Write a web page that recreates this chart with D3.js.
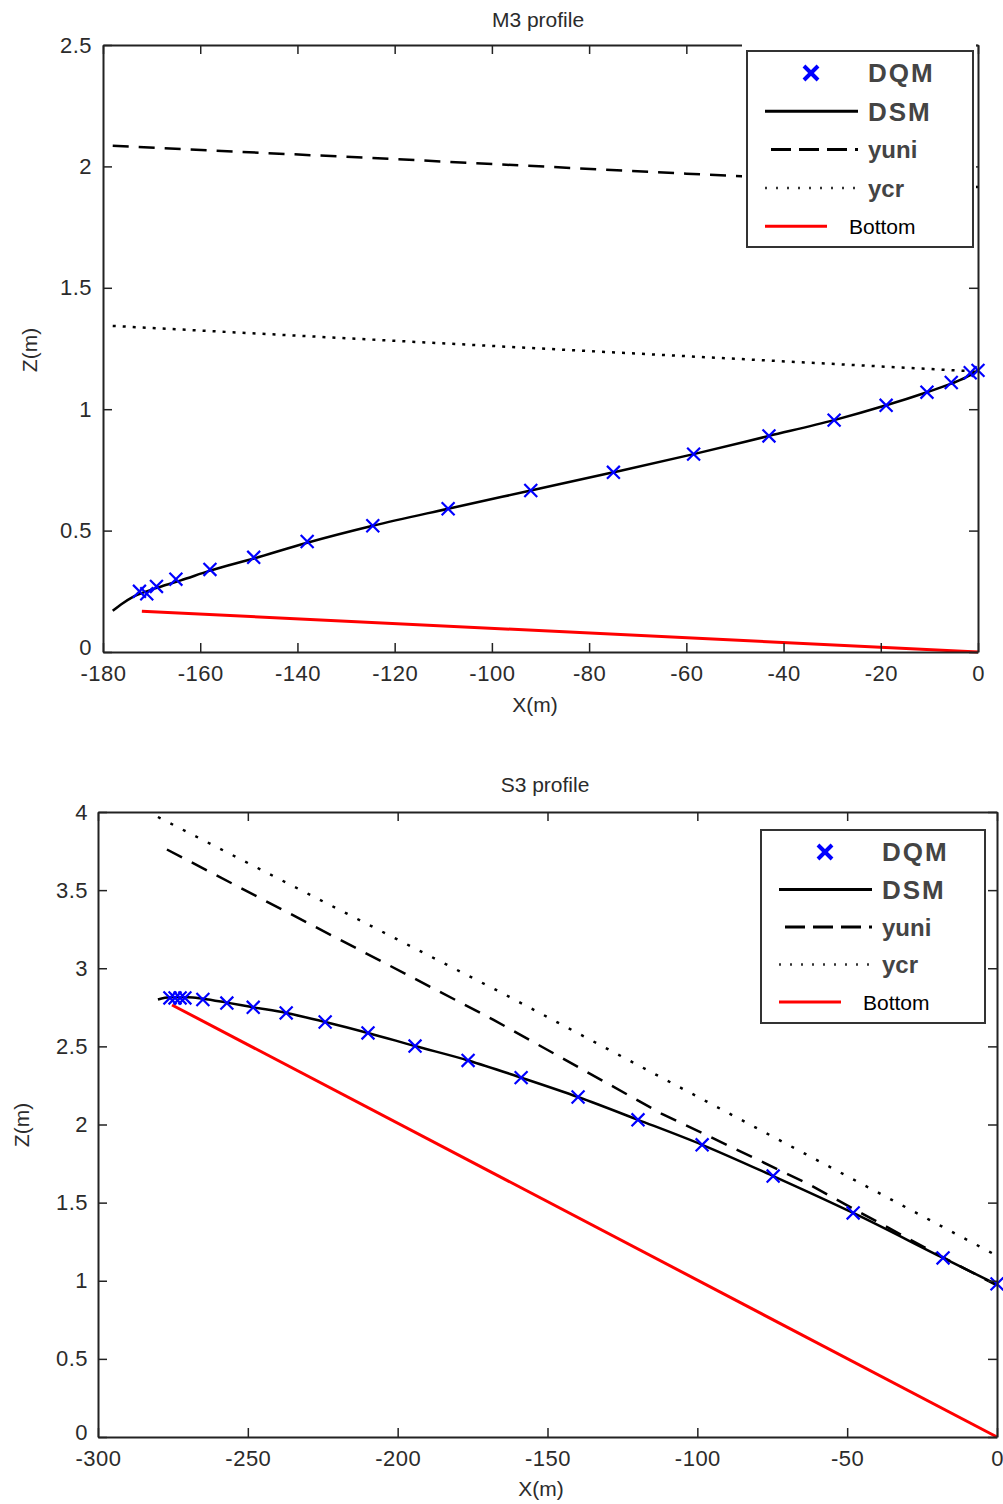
<!DOCTYPE html>
<html>
<head>
<meta charset="utf-8">
<script src="https://cdn.jsdelivr.net/npm/d3@7"></script>
<style>
  body { margin: 0; background: #fff; }
  svg { display: block; font-family: "Liberation Sans", Arial, sans-serif; }
</style>
</head>
<body>
<svg id="chart" width="1003" height="1504"></svg>
<script>
// ---- M3 profile ----
const m3XTicks = [-180, -160, -140, -120, -100, -80, -60, -40, -20, 0];
const m3ZTicks = [0, 0.5, 1, 1.5, 2, 2.5];
const m3DqmX = [-172.5, -171, -169, -165, -158, -149, -138, -124.5, -109, -92, -75, -58.5, -43, -29.6, -18.9, -10.5, -5.5, -1.6, 0];
const m3DqmZ = [0.25, 0.24, 0.27, 0.30, 0.34, 0.39, 0.455, 0.52, 0.59, 0.665, 0.74, 0.815, 0.89, 0.955, 1.016, 1.07, 1.11, 1.15, 1.16];
const m3DsmX = [-178, -176, -174, -171, -168, -164, -158, -149, -138, -124.5, -109, -92, -75, -58.5, -43, -29.6, -18.9, -10.5, -5.5, -1.6, 0];
const m3DsmZ = [0.17, 0.2, 0.225, 0.25, 0.27, 0.295, 0.335, 0.385, 0.45, 0.52, 0.59, 0.665, 0.74, 0.815, 0.89, 0.955, 1.016, 1.07, 1.105, 1.14, 1.16];
const m3YuniX = [-178, -120, -60, 0];
const m3YuniZ = [2.085, 2.03, 1.97, 1.915];
const m3YcrX = [-178, -90, 0];
const m3YcrZ = [1.343, 1.25, 1.155];
const m3BottomX = [-172, 0];
const m3BottomZ = [0.168, 0];

// ---- S3 profile ----
const s3XTicks = [-300, -250, -200, -150, -100, -50, 0];
const s3ZTicks = [0, 0.5, 1, 1.5, 2, 2.5, 3, 3.5, 4];
const s3DqmX = [-276, -274.3, -272.6, -271, -265, -257, -248.2, -237.2, -224.2, -209.9, -194.2, -176.5, -158.8, -139.8, -119.8, -98.4, -74.7, -48, -18, 0];
const s3DqmZ = [2.81, 2.81, 2.81, 2.81, 2.80, 2.777, 2.75, 2.714, 2.656, 2.586, 2.502, 2.41, 2.30, 2.176, 2.03, 1.87, 1.67, 1.434, 1.146, 0.98];
const s3DsmX = [-280, -276, -270, -265, -257, -248.2, -237.2, -224.2, -209.9, -194.2, -176.5, -158.8, -139.8, -119.8, -98.4, -74.7, -48, -18, 0];
const s3DsmZ = [2.80, 2.815, 2.815, 2.805, 2.78, 2.75, 2.714, 2.656, 2.586, 2.502, 2.41, 2.30, 2.176, 2.03, 1.87, 1.67, 1.434, 1.146, 0.975];
const s3YuniX = [-277, -230, -168, -112, -63, -45, -20, 0];
const s3YuniZ = [3.76, 3.29, 2.67, 2.07, 1.62, 1.43, 1.17, 0.97];
const s3YcrX = [-280, -165, -79, 0];
const s3YcrZ = [3.968, 2.84, 1.965, 1.16];
const s3BottomX = [-275.3, 0];
const s3BottomZ = [2.765, 0];

const legendNames = ["DQM", "DSM", "yuni", "ycr", "Bottom"];

const svg = d3.select("#chart");
const textColor = "#2b2b2b";

function zip(xs, zs) {
  return xs.map((x, i) => ({ x: x, z: zs[i] }));
}

function drawChart(c) {
  const x = d3.scaleLinear().domain(c.xDomain).range([c.left, c.right]);
  const y = d3.scaleLinear().domain(c.zDomain).range([c.bottom, c.top]);
  const g = svg.append("g");

  const line = d3.line().x(d => x(d.x)).y(d => y(d.z));

  // series
  g.append("path").datum(zip(c.bottomX, c.bottomZ))
    .attr("d", line).attr("fill", "none").attr("stroke", "#ff0000").attr("stroke-width", 3);
  g.append("path").datum(zip(c.ycrX, c.ycrZ))
    .attr("d", line).attr("fill", "none").attr("stroke", "#000")
    .attr("stroke-width", 2.5).attr("stroke-dasharray", c.dotDash);
  g.append("path").datum(zip(c.yuniX, c.yuniZ))
    .attr("d", line)
    .attr("fill", "none").attr("stroke", "#000")
    .attr("stroke-width", 2.5).attr("stroke-dasharray", c.dashDash);
  g.append("path").datum(zip(c.dsmX, c.dsmZ))
    .attr("d", d3.line().curve(d3.curveMonotoneX).x(d => x(d.x)).y(d => y(d.z)))
    .attr("fill", "none").attr("stroke", "#000").attr("stroke-width", 2.5);

  const cross = d3.symbol().type(d3.symbolTimes).size(110);
  g.append("g").selectAll("path")
    .data(zip(c.dqmX, c.dqmZ))
    .join("path")
    .attr("d", cross)
    .attr("transform", d => `translate(${x(d.x)},${y(d.z)})`)
    .attr("fill", "none").attr("stroke", "#0000ff").attr("stroke-width", 2.2);

  // axes (ticks inward, box)
  const tick = 9;
  const styleAxis = sel => {
    sel.select(".domain").attr("stroke", "#222").attr("stroke-width", 2);
    sel.selectAll(".tick line").attr("stroke", "#222").attr("stroke-width", 1.5);
    sel.selectAll("text").attr("fill", textColor).style("font-size", "22px")
      .style("letter-spacing", "0.5px")
      .style("font-family", "Liberation Sans, Arial, sans-serif");
  };
  const fmt = d => String(d);
  g.append("g").attr("transform", `translate(0,${c.bottom})`)
    .call(d3.axisBottom(x).tickValues(c.xTicks).tickSize(-tick).tickSizeOuter(0).tickPadding(13).tickFormat(fmt))
    .call(styleAxis);
  g.append("g").attr("transform", `translate(0,${c.top})`)
    .call(d3.axisTop(x).tickValues(c.xTicks).tickSize(-tick).tickSizeOuter(0).tickFormat(""))
    .call(styleAxis);
  const yAxis = g.append("g").attr("transform", `translate(${c.left},0)`)
    .call(d3.axisLeft(y).tickValues(c.zTicks).tickSize(-tick).tickSizeOuter(0).tickPadding(c.yPad).tickFormat(fmt))
    .call(styleAxis);
  // lift the "0" label a little so it clears the first x label
  yAxis.selectAll(".tick text").filter(d => d === 0).attr("dy", "0.1em");
  g.append("g").attr("transform", `translate(${c.right},0)`)
    .call(d3.axisRight(y).tickValues(c.zTicks).tickSize(-tick).tickSizeOuter(0).tickFormat(""))
    .call(styleAxis);
  g.selectAll(".domain").attr("fill", "none");

  // titles
  g.append("text").attr("x", c.titleX).attr("y", c.titleY)
    .attr("text-anchor", "middle").attr("fill", textColor).style("font-size", "21px")
    .text(c.title);
  g.append("text").attr("x", c.xLabelX).attr("y", c.xLabelY)
    .attr("text-anchor", "middle").attr("fill", textColor).style("font-size", "21px")
    .text("X(m)");
  g.append("text")
    .attr("transform", `translate(${c.zLabelX},${c.zLabelY}) rotate(-90)`)
    .attr("text-anchor", "middle").attr("fill", textColor).style("font-size", "21px")
    .text("Z(m)");

  // legend
  const L = c.legend;
  if (L.mask) {
    g.append("rect").attr("x", L.mask[0]).attr("y", L.mask[1])
      .attr("width", L.mask[2]).attr("height", L.mask[3]).attr("fill", "#fff");
  }
  g.append("rect").attr("x", L.x).attr("y", L.y).attr("width", L.w).attr("height", L.h)
    .attr("fill", "#fff").attr("stroke", "#333").attr("stroke-width", 2);

  const rows = legendNames.map((name, i) => ({ name: name, cy: L.y + L.rowTop + i * L.rowStep }));
  const lx0 = L.x + 18, lx1 = L.x + 111;
  rows.forEach((r, i) => {
    if (i === 0) {
      g.append("path").attr("d", d3.symbol().type(d3.symbolTimes).size(130))
        .attr("transform", `translate(${L.x + 64},${r.cy})`)
        .attr("fill", "none").attr("stroke", "#0000ff").attr("stroke-width", 4);
    } else if (i === 4) {
      g.append("line").attr("x1", lx0).attr("x2", L.x + 80).attr("y1", r.cy).attr("y2", r.cy)
        .attr("stroke", "#ff0000").attr("stroke-width", 3);
    } else {
      const ln = g.append("line").attr("x1", i === 2 ? lx0 + 6 : lx0).attr("x2", lx1)
        .attr("y1", r.cy).attr("y2", r.cy).attr("stroke", "#000").attr("stroke-width", 3);
      if (i === 2) ln.attr("stroke-dasharray", "20,8");
      if (i === 3) ln.attr("stroke-dasharray", "2,9").attr("stroke-width", 2.5).attr("stroke", "#333");
    }
    g.append("text")
      .attr("x", i === 4 ? L.x + 102 : L.x + 121)
      .attr("y", r.cy)
      .attr("dy", "0.36em")
      .attr("fill", i === 4 ? "#000" : "#444")
      .style("font-size", i === 4 ? "21px" : (i < 2 ? "26px" : "24px"))
      .style("font-weight", i === 4 ? "normal" : "bold")
      .style("letter-spacing", i < 2 ? "2px" : "0px")
      .text(r.name);
  });
}

drawChart({
  title: "M3 profile", titleX: 538, titleY: 27,
  xLabelX: 535, xLabelY: 712, zLabelX: 37, zLabelY: 350,
  left: 103, right: 978, top: 45, bottom: 652, yPad: 11,
  xDomain: [-180, 0], zDomain: [0, 2.5],
  xTicks: m3XTicks, zTicks: m3ZTicks,
  dqmX: m3DqmX, dqmZ: m3DqmZ, dsmX: m3DsmX, dsmZ: m3DsmZ,
  yuniX: m3YuniX, yuniZ: m3YuniZ, ycrX: m3YcrX, ycrZ: m3YcrZ,
  bottomX: m3BottomX, bottomZ: m3BottomZ,
  dashDash: "16,10", dotDash: "3,7",
  legend: { x: 747, y: 51, w: 226, h: 196, rowTop: 22, rowStep: 38.3, mask: [742, 38, 234, 214] }
});

drawChart({
  title: "S3 profile", titleX: 545, titleY: 792,
  xLabelX: 541, xLabelY: 1496, zLabelX: 29, zLabelY: 1125,
  left: 98, right: 997, top: 812, bottom: 1437, yPad: 10,
  xDomain: [-300, 0], zDomain: [0, 4],
  xTicks: s3XTicks, zTicks: s3ZTicks,
  dqmX: s3DqmX, dqmZ: s3DqmZ, dsmX: s3DsmX, dsmZ: s3DsmZ,
  yuniX: s3YuniX, yuniZ: s3YuniZ, ycrX: s3YcrX, ycrZ: s3YcrZ,
  bottomX: s3BottomX, bottomZ: s3BottomZ,
  dashDash: "17,11", dotDash: "3,11",
  legend: { x: 761, y: 830, w: 224, h: 193, rowTop: 22, rowStep: 37.5, mask: null }
});
</script>
</body>
</html>
